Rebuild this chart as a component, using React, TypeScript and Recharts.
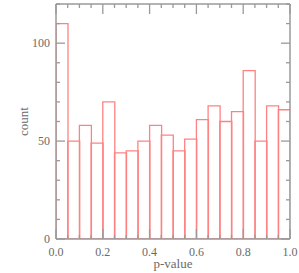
import React from 'react';
import { ComposedChart, Bar, XAxis, YAxis } from 'recharts';

const binStarts = [0, 0.05, 0.1, 0.15, 0.2, 0.25, 0.3, 0.35, 0.4, 0.45, 0.5, 0.55, 0.6, 0.65, 0.7, 0.75, 0.8, 0.85, 0.9, 0.95];
const binWidth = 0.05;
const counts = [110, 50, 58, 49, 70, 44, 45, 50, 58, 53, 45, 51, 61, 68, 60, 65, 86, 50, 68, 66];
const xMajorTicks = [0, 0.2, 0.4, 0.6, 0.8, 1];
const xAllTicks = [0, 0.05, 0.1, 0.15, 0.2, 0.25, 0.3, 0.35, 0.4, 0.45, 0.5, 0.55, 0.6, 0.65, 0.7, 0.75, 0.8, 0.85, 0.9, 0.95, 1];
const yMajorTicks = [0, 50, 100];
const yAllTicks = [0, 10, 20, 30, 40, 50, 60, 70, 80, 90, 100, 110, 120];

const data = binStarts.map((b, i) => ({ x: b + binWidth / 2, count: counts[i] }));

const AXIS = '#9a9a9a';
const TEXT = '#6a6a6a';
const BAR = '#ff8282';
const FONT = '"Liberation Serif", serif';

const isMajorX = (v: number) => xMajorTicks.some((t) => Math.abs(t - v) < 1e-9);
const isMajorY = (v: number) => yMajorTicks.includes(v);

const BottomTick = (props: any) => {
  const { x, y, payload } = props;
  const major = isMajorX(payload.value);
  return (
    <g>
      <line x1={x} y1={y} x2={x} y2={y - (major ? 10 : 4)} stroke={AXIS} strokeWidth={1.3} />
      {major && (
        <text x={x} y={y + 17} textAnchor="middle" fill={TEXT} fontSize={12} fontFamily={FONT}>
          {Number(payload.value).toFixed(1)}
        </text>
      )}
    </g>
  );
};

const TopTick = (props: any) => {
  const { x, y, payload } = props;
  const major = isMajorX(payload.value);
  return <line x1={x} y1={y} x2={x} y2={y + (major ? 10 : 4)} stroke={AXIS} strokeWidth={1.3} />;
};

const LeftTick = (props: any) => {
  const { x, y, payload } = props;
  const major = isMajorY(payload.value);
  return (
    <g>
      <line x1={x} y1={y} x2={x + (major ? 9 : 4)} y2={y} stroke={AXIS} strokeWidth={1.3} />
      {major && (
        <text x={x - 6} y={y + 4.3} textAnchor="end" fill={TEXT} fontSize={12} fontFamily={FONT}>
          {payload.value}
        </text>
      )}
    </g>
  );
};

const RightTick = (props: any) => {
  const { x, y, payload } = props;
  const major = isMajorY(payload.value);
  return <line x1={x} y1={y} x2={x - (major ? 9 : 4)} y2={y} stroke={AXIS} strokeWidth={1.3} />;
};

export default function App() {
  return (
    <div style={{ position: 'absolute', left: 0, top: 0, background: '#fff' }}>
      <ComposedChart
        width={299}
        height={273}
        data={data}
        barCategoryGap={0}
        barGap={0}
        margin={{ top: 3, right: 8, bottom: 0, left: 0 }}
      >
        <XAxis
          xAxisId="bottom"
          dataKey="x"
          type="number"
          orientation="bottom"
          domain={[0, 1]}
          allowDataOverflow
          ticks={xAllTicks}
          interval={0}
          tickSize={0}
          tickMargin={0}
          tickLine={false}
          tick={<BottomTick />}
          axisLine={{ stroke: AXIS, strokeWidth: 1.5 }}
          height={34}
          label={{ value: 'p-value', position: 'insideBottom', offset: 5, fill: TEXT, fontSize: 13, fontFamily: FONT }}
        />
        <XAxis
          xAxisId="top"
          dataKey="x"
          type="number"
          orientation="top"
          domain={[0, 1]}
          allowDataOverflow
          ticks={xAllTicks}
          interval={0}
          tickSize={0}
          tickMargin={0}
          tickLine={false}
          tick={<TopTick />}
          axisLine={{ stroke: AXIS, strokeWidth: 1.5 }}
          height={1}
        />
        <YAxis
          yAxisId="left"
          type="number"
          orientation="left"
          domain={[0, 120]}
          allowDataOverflow
          ticks={yAllTicks}
          interval={0}
          tickSize={0}
          tickMargin={0}
          tickLine={false}
          tick={<LeftTick />}
          axisLine={{ stroke: AXIS, strokeWidth: 1.5 }}
          width={56}
          label={{ value: 'count', angle: -90, position: 'center', dx: -5, fill: TEXT, fontSize: 13, fontFamily: FONT }}
        />
        <YAxis
          yAxisId="right"
          type="number"
          orientation="right"
          domain={[0, 120]}
          allowDataOverflow
          ticks={yAllTicks}
          interval={0}
          tickSize={0}
          tickMargin={0}
          tickLine={false}
          tick={<RightTick />}
          axisLine={{ stroke: AXIS, strokeWidth: 1.5 }}
          width={1}
        />
        <Bar
          xAxisId="bottom"
          yAxisId="left"
          dataKey="count"
          fill="none"
          stroke={BAR}
          strokeWidth={1.3}
          isAnimationActive={false}
        />
      </ComposedChart>
    </div>
  );
}
